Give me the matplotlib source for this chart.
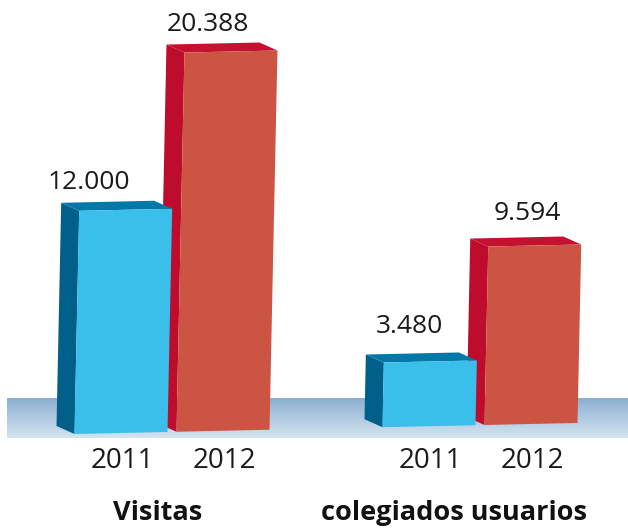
import numpy as np
import matplotlib
matplotlib.use('Agg')
import matplotlib.pyplot as plt
from matplotlib.patches import Polygon
from matplotlib.colors import LinearSegmentedColormap

# data
groups = ['Visitas', 'colegiados usuarios']
years = ['2011', '2012']
values_2011 = [12000, 3480]
values_2012 = [20388, 9594]
value_labels_2011 = ['12.000', '3.480']
value_labels_2012 = ['20.388', '9.594']

plt.rcParams['font.family'] = ['Open Sans', 'DejaVu Sans']

# layout (x in pixels, y in data units)
W, H = 628, 529
PX = 1 / 0.0186            # data units per vertical pixel
BASE_PX = 434              # baseline pixel row at x=75
group_x = [172, 480]
bar_w = 93
depth_dx, depth_dy = -18, 8 * PX
slope = 0.022 * PX         # baseline rises to the right
lean = 0.021               # front face leans right with height

colors = {
    '2011': {'front': '#3abeea', 'side': '#00608a', 'top': '#0079a8'},
    '2012': {'front': '#cb5442', 'side': '#be0c2d', 'top': '#c4112f'},
}

fig = plt.figure(figsize=(W / 100, H / 100), dpi=100)
ax = fig.add_axes([0, 0, 1, 1])
ax.set_xlim(0, W)
ax.set_ylim(-(H - BASE_PX) * PX, BASE_PX * PX)
ax.axis('off')


def base(x):
    return (x - 75) * slope


# floor band with gradient
floor_top, floor_bot = (BASE_PX - 398) * PX, (BASE_PX - 438) * PX
cmap = LinearSegmentedColormap.from_list('floor', ['#8cb0d1', '#d4e4f1'])
grad = np.linspace(0, 1, 100).reshape(-1, 1)
ax.imshow(grad, cmap=cmap, extent=[7, W, floor_bot, floor_top], aspect='auto', zorder=0)


def draw_bar(xl, value, c):
    xr = xl + bar_w
    h_px = value / PX
    sh = lean * h_px
    b0, b1 = base(xl), base(xr)
    fl_b, fr_b = (xl, b0), (xr, b1)
    fl_t, fr_t = (xl + sh, b0 + value), (xr + sh, b1 + value)
    bl_t = (fl_t[0] + depth_dx, fl_t[1] + depth_dy)
    br_t = (fr_t[0] + depth_dx, fr_t[1] + depth_dy)
    bl_b = (xl + depth_dx, b0 + depth_dy)
    ax.add_patch(Polygon([fl_b, fl_t, bl_t, bl_b], closed=True, fc=c['side'], ec='none', zorder=2))
    ax.add_patch(Polygon([fl_t, fr_t, br_t, bl_t], closed=True, fc=c['top'], ec='none', zorder=2))
    ax.add_patch(Polygon([fl_b, fr_b, fr_t, fl_t], closed=True, fc=c['front'], ec='none', zorder=2))
    return (xl + xr) / 2 + sh, b0 + value + depth_dy


label_dx = {'2011': [-37, -21], '2012': [-23, -7]}
label_dy = {'2011': [20, 28], '2012': [20, 25]}
year_dx = {'2011': -50, '2012': 52}
group_label_dx = [-14, -26]

for i, g in enumerate(groups):
    gx = group_x[i]
    # 2012 drawn first so the 2011 bar overlaps its side face
    for yr, vals, labs, off in [('2012', values_2012, value_labels_2012, 4.5),
                                ('2011', values_2011, value_labels_2011, -97.5)]:
        xl = gx + off
        cx, ty = draw_bar(xl, vals[i], colors[yr])
        ax.text(cx + label_dx[yr][i], ty + label_dy[yr][i] * PX, labs[i],
                ha='center', va='center', fontsize=19, color='#1a1a1a')
        ax.text(gx + year_dx[yr], (BASE_PX - 461) * PX, yr,
                ha='center', va='center', fontsize=20, color='#1a1a1a')
    ax.text(gx + group_label_dx[i], (BASE_PX - 513) * PX, g,
            ha='center', va='center', fontsize=19.5, fontweight='bold', color='#111111')

fig.savefig('out.png', dpi=100)
